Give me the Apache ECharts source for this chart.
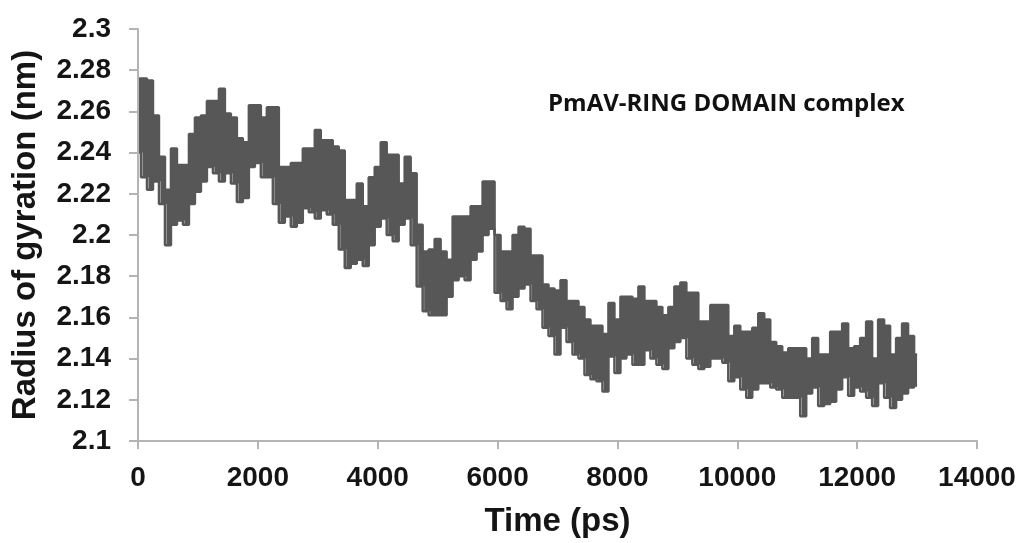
<!DOCTYPE html>
<html>
<head>
<meta charset="utf-8">
<script src="https://cdn.jsdelivr.net/npm/echarts@6/dist/echarts.min.js"></script>
<style>
  html, body { margin: 0; padding: 0; background: #fff; }
  #chart-rg { width: 1020px; height: 543px; }
</style>
</head>
<body>
<div id="chart-rg"></div>
<script>
// Rg trace, one sample every 100 ps (0 .. 13000 ps)
var STEP_PS = 100;

// upper edge of the plotted band (nm)
var rgUpper = [
    2.276, 2.276, 2.275, 2.258, 2.238, 2.222, 2.242, 2.234, 2.234, 2.249,
    2.257, 2.258, 2.265, 2.265, 2.271, 2.259, 2.257, 2.247, 2.245, 2.263,
    2.263, 2.257, 2.262, 2.262, 2.233, 2.233, 2.235, 2.235, 2.242, 2.242,
    2.251, 2.246, 2.246, 2.243, 2.241, 2.217, 2.217, 2.225, 2.214, 2.228,
    2.233, 2.245, 2.239, 2.239, 2.225, 2.238, 2.230, 2.205, 2.192, 2.193,
    2.198, 2.192, 2.188, 2.209, 2.209, 2.209, 2.214, 2.214, 2.226, 2.226,
    2.200, 2.192, 2.192, 2.200, 2.204, 2.203, 2.190, 2.190, 2.176, 2.174,
    2.173, 2.178, 2.168, 2.168, 2.165, 2.159, 2.156, 2.156, 2.152, 2.167,
    2.159, 2.170, 2.170, 2.169, 2.175, 2.168, 2.168, 2.165, 2.161, 2.165,
    2.175, 2.177, 2.172, 2.172, 2.158, 2.158, 2.166, 2.166, 2.166, 2.151,
    2.156, 2.153, 2.153, 2.155, 2.162, 2.159, 2.148, 2.146, 2.143, 2.145,
    2.145, 2.145, 2.140, 2.150, 2.142, 2.142, 2.153, 2.153, 2.157, 2.145,
    2.146, 2.150, 2.158, 2.140, 2.159, 2.156, 2.142, 2.150, 2.157, 2.151,
    2.142
];

// lower edge of the plotted band (nm)
var rgLower = [
    2.240, 2.228, 2.222, 2.226, 2.215, 2.195, 2.205, 2.207, 2.205, 2.215,
    2.221, 2.226, 2.233, 2.230, 2.226, 2.230, 2.225, 2.216, 2.218, 2.233,
    2.235, 2.228, 2.228, 2.215, 2.206, 2.209, 2.204, 2.206, 2.213, 2.211,
    2.208, 2.212, 2.210, 2.205, 2.193, 2.184, 2.186, 2.188, 2.185, 2.195,
    2.204, 2.208, 2.200, 2.197, 2.205, 2.208, 2.195, 2.175, 2.163, 2.161,
    2.161, 2.161, 2.170, 2.178, 2.180, 2.178, 2.188, 2.192, 2.200, 2.203,
    2.172, 2.168, 2.164, 2.170, 2.174, 2.176, 2.168, 2.164, 2.155, 2.151,
    2.142, 2.155, 2.148, 2.142, 2.140, 2.132, 2.130, 2.129, 2.124, 2.141,
    2.133, 2.140, 2.142, 2.137, 2.137, 2.144, 2.140, 2.137, 2.135, 2.145,
    2.148, 2.150, 2.140, 2.137, 2.135, 2.136, 2.140, 2.140, 2.138, 2.129,
    2.131, 2.125, 2.121, 2.125, 2.128, 2.128, 2.126, 2.125, 2.121, 2.121,
    2.121, 2.112, 2.123, 2.126, 2.117, 2.118, 2.119, 2.125, 2.131, 2.122,
    2.126, 2.124, 2.121, 2.117, 2.128, 2.121, 2.116, 2.120, 2.123, 2.126,
    2.127
];

var chartTitle = 'PmAV-RING DOMAIN complex';
var xName = 'Time (ps)';
var yName = 'Radius of gyration (nm)';

var upperData = rgUpper.map(function (v, i) { return [i * STEP_PS, v]; });
var lowerData = rgLower.map(function (v, i) { return [i * STEP_PS, v]; });

var bandColor = '#575757';
var axisColor = '#b4b4b4';
var labelFont = { fontFamily: 'Liberation Sans', fontWeight: 'bold', fontSize: 28, color: '#151515' };
var nameFont = { fontFamily: 'Liberation Sans', fontWeight: 'bold', fontSize: 33, color: '#151515' };

var myChart = echarts.init(document.getElementById('chart-rg'));

option = {
    animation: false,
    title: {
        text: chartTitle,
        left: 548,
        top: 92,
        padding: 0,
        textStyle: { fontFamily: 'Open Sans', fontWeight: 'bold', fontSize: 24, color: '#111' }
    },
    grid: { left: 138, right: 43, top: 29, bottom: 100 },
    xAxis: {
        type: 'value',
        z: 10,
        min: 0, max: 14000, interval: 2000,
        name: xName,
        nameLocation: 'middle',
        nameGap: 64,
        nameTextStyle: nameFont,
        splitLine: { show: false },
        axisLine: { lineStyle: { color: axisColor, width: 2 } },
        axisTick: { length: 8, lineStyle: { color: axisColor, width: 2 } },
        axisLabel: Object.assign({ margin: 23, formatter: function (v) { return String(v); } }, labelFont)
    },
    yAxis: {
        type: 'value',
        z: 10,
        min: 2.1, max: 2.3, interval: 0.02,
        name: yName,
        nameLocation: 'middle',
        nameGap: 96,
        nameTextStyle: nameFont,
        splitLine: { show: false },
        axisLine: { show: true, lineStyle: { color: axisColor, width: 2 } },
        axisTick: { show: true, length: 9, lineStyle: { color: axisColor, width: 2 } },
        axisLabel: Object.assign({ margin: 27 }, labelFont)
    },
    series: [
        {
            // upper edge, filled down to the axis
            name: 'upper',
            type: 'line',
            step: 'middle',
            showSymbol: false,
            data: upperData,
            lineStyle: { color: bandColor, width: 2.5 },
            areaStyle: { color: bandColor, opacity: 1, origin: 'start' }
        },
        {
            // lower edge, white fill below it leaves the band
            // (white shadow hides the anti-aliased seam at the right end)
            name: 'lower',
            type: 'line',
            step: 'middle',
            showSymbol: false,
            data: lowerData,
            lineStyle: { color: bandColor, width: 2.5 },
            areaStyle: {
                color: '#fff', opacity: 1, origin: 'start',
                shadowColor: '#fff', shadowBlur: 0, shadowOffsetX: 1.5
            }
        }
    ]
};

myChart.setOption(option);
</script>
</body>
</html>
